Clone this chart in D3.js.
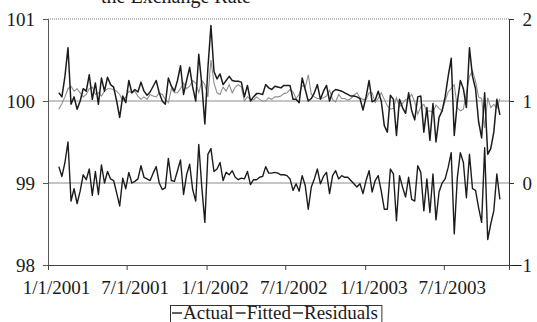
<!DOCTYPE html>
<html>
<head>
<meta charset="utf-8">
<script src="https://cdn.jsdelivr.net/npm/d3@7/dist/d3.min.js"></script>
<style>
  html, body { margin: 0; padding: 0; background: #fff; }
  svg text { font-family: "Liberation Serif", "DejaVu Serif", serif; fill: #1a1a1a; }
</style>
</head>
<body>
<div id="chart"></div>
<script>
// weekly observations, first one on 26 Jan 2001
const firstWeek = new Date(2001, 0, 26);

const actual = [
  100.10, 100.05, 100.30, 100.65, 99.96, 100.05, 99.90, 100.00, 100.15, 100.12,
  100.32, 100.02, 100.22, 99.96, 100.28, 100.12, 100.29, 100.20, 100.17, 100.00,
  99.80, 100.06, 99.98, 100.25, 100.10, 100.14, 100.11, 100.23, 100.12, 100.07,
  100.11, 100.18, 100.25, 100.10, 100.00, 99.96, 100.28, 100.18, 100.12, 100.25,
  100.43, 100.08, 100.25, 100.41, 100.17, 100.00, 100.57, 100.20, 99.72, 100.40,
  100.92, 100.36, 100.27, 100.33, 100.20, 100.25, 100.30, 100.25, 100.24, 100.24,
  100.23, 100.05, 100.19, 100.00, 100.05, 100.09, 100.09, 100.08, 100.20, 100.16,
  100.14, 100.18, 100.17, 100.16, 100.19, 100.19, 100.19, 100.02, 100.02, 99.98,
  100.28, 100.14, 100.00, 100.03, 100.10, 100.20, 100.02, 100.12, 100.19, 100.00,
  100.11, 100.14, 100.13, 100.12, 100.10, 100.08, 100.06, 100.06, 100.05, 100.03,
  99.89, 100.05, 100.25, 99.99, 100.01, 100.12, 100.00, 99.70, 99.62, 100.07,
  100.02, 99.58, 100.02, 99.92, 99.85, 100.10, 99.88, 99.77, 100.05, 100.06,
  99.62, 99.92, 99.52, 99.97, 99.50, 99.80, 99.88, 100.05, 100.30, 100.52,
  99.58, 99.98, 100.25, 100.15, 99.92, 100.65, 100.30, 100.15, 99.75, 99.55,
  100.10, 99.35, 99.42, 99.62, 100.02, 99.83
];

const fitted = [
  99.90, 99.97, 100.05, 100.15, 100.18, 100.12, 100.15, 100.10, 100.05, 100.08,
  100.15, 100.17, 100.08, 100.10, 100.06, 100.12, 100.15, 100.15, 100.14, 100.12,
  100.08, 100.00, 100.05, 100.12, 100.10, 100.12, 100.06, 100.02, 100.05, 100.02,
  100.08, 100.06, 100.05, 100.10, 100.08, 100.02, 99.98, 100.15, 100.10, 100.10,
  100.15, 100.22, 100.15, 100.18, 100.25, 100.22, 100.10, 100.25, 100.20, 100.05,
  100.50, 100.22, 100.10, 100.08, 100.17, 100.12, 100.20, 100.10, 100.17, 100.20,
  100.17, 100.00, 100.05, 100.02, 100.01, 100.05, 100.02, 100.00, 100.00, 100.04,
  100.02, 100.05, 100.05, 100.06, 100.09, 100.10, 100.14, 100.11, 100.03, 100.08,
  100.19, 100.17, 100.32, 100.08, 100.05, 100.03, 100.03, 100.04, 100.06, 100.13,
  100.02, 99.99, 100.08, 100.03, 100.03, 100.01, 100.03, 100.07, 100.10, 100.04,
  100.02, 100.02, 100.10, 100.10, 99.98, 100.03, 100.10, 100.02, 99.94, 99.90,
  99.91, 100.04, 99.93, 99.97, 100.02, 100.03, 100.08, 99.99, 99.84, 99.93,
  99.96, 99.87, 99.88, 99.86, 99.95, 99.91, 99.88, 100.00, 100.11, 100.15,
  100.20, 99.92, 99.88, 99.90, 100.10, 100.30, 100.37, 100.24, 100.05, 100.03,
  99.67, 100.04, 99.92, 99.96, 99.91, 100.03
];

const residuals = [
  0.20, 0.08, 0.25, 0.50, -0.22, -0.07, -0.25, -0.10, 0.10, 0.04,
  0.17, -0.15, 0.14, -0.14, 0.22, 0.00, 0.14, 0.05, 0.03, -0.12,
  -0.28, 0.06, -0.07, 0.13, 0.00, 0.02, 0.05, 0.21, 0.07, 0.05,
  0.03, 0.12, 0.20, 0.00, -0.08, -0.06, 0.30, 0.03, 0.02, 0.15,
  0.28, -0.14, 0.10, 0.23, -0.08, -0.22, 0.47, -0.05, -0.48, 0.35,
  0.42, 0.14, 0.17, 0.25, 0.03, 0.13, 0.10, 0.15, 0.07, 0.04,
  0.06, 0.05, 0.14, -0.02, 0.04, 0.04, 0.07, 0.08, 0.20, 0.12,
  0.12, 0.13, 0.12, 0.10, 0.10, 0.09, 0.05, -0.09, -0.01, -0.10,
  0.09, -0.03, -0.32, -0.05, 0.05, 0.17, -0.01, 0.08, 0.13, -0.13,
  0.09, 0.15, 0.05, 0.09, 0.07, 0.07, 0.03, -0.01, -0.05, -0.01,
  -0.13, 0.03, 0.15, -0.11, 0.03, 0.09, -0.10, -0.32, -0.32, 0.17,
  0.11, -0.46, 0.09, -0.05, -0.17, 0.07, -0.20, -0.22, 0.21, 0.13,
  -0.34, 0.05, -0.36, 0.11, -0.45, -0.11, 0.00, 0.05, 0.19, 0.37,
  -0.62, 0.06, 0.37, 0.25, -0.18, 0.35, -0.07, -0.09, -0.30, -0.48,
  0.43, -0.69, -0.50, -0.34, 0.11, -0.20
];

const leftTicks = [98, 99, 100, 101];
const rightTicks = [-1, 0, 1, 2];
const xTickLabels = ['1/1/2001', '7/1/2001', '1/1/2002', '7/1/2002', '1/1/2003', '7/1/2003'];
const seriesNames = ['Actual', 'Fitted', 'Residuals'];

const width = 537, height = 322;
const plotLeft = 48, plotRight = 509, plotTop = 19, plotBottom = 265;

const parseDate = d3.timeParse('%m/%d/%Y');
const weeks = actual.map((_, i) => d3.timeWeek.offset(firstWeek, i));

const x = d3.scaleTime()
  .domain([new Date(2001, 0, 1), new Date(2003, 10, 28)])
  .range([plotLeft, plotRight]);
const y = d3.scaleLinear().domain([98, 101]).range([plotBottom, plotTop]);
const yRes = d3.scaleLinear().domain([-1, 2]).range([plotBottom, plotTop]);

const svg = d3.select('#chart').append('svg')
  .attr('width', width)
  .attr('height', height);

// title, only its lower edge is inside the picture
svg.append('text')
  .attr('x', 176).attr('y', 3)
  .attr('text-anchor', 'middle')
  .style('font-size', '20px')
  .text('the Exchange Rate');

// grid lines at 100 and 99, dotted top border at 101
svg.selectAll('line.grid')
  .data([99, 100])
  .enter().append('line')
  .attr('class', 'grid')
  .attr('x1', plotLeft).attr('x2', plotRight)
  .attr('y1', d => y(d)).attr('y2', d => y(d))
  .attr('stroke', '#8c8c8c').attr('stroke-width', 1);

svg.append('line')
  .attr('x1', plotLeft).attr('x2', plotRight)
  .attr('y1', y(101)).attr('y2', y(101))
  .attr('stroke', '#777').attr('stroke-dasharray', '1,1');

// left axis
const yAxis = svg.append('g')
  .attr('transform', `translate(${plotLeft},0)`)
  .call(d3.axisLeft(y).tickValues(leftTicks).tickSize(5).tickPadding(8).tickFormat(d3.format('d')));
yAxis.select('.domain').attr('stroke', '#555');
yAxis.selectAll('.tick line').attr('stroke', '#555');
yAxis.selectAll('text').style('font-size', '19px').attr('fill', '#1a1a1a')
  .attr('font-family', null);

// right axis
const rAxis = svg.append('g')
  .attr('transform', `translate(${plotRight},0)`)
  .call(d3.axisRight(yRes).tickValues(rightTicks).tickSize(5).tickPadding(8).tickFormat(d3.format('d')));
rAxis.select('.domain').attr('stroke', '#333');
rAxis.selectAll('.tick line').attr('stroke', '#333');
rAxis.selectAll('text').style('font-size', '19px').attr('fill', '#1a1a1a')
  .attr('text-anchor', 'end').attr('x', 23)
  .attr('font-family', null);

// bottom axis
const xAxis = svg.append('g')
  .attr('transform', `translate(0,${plotBottom})`)
  .call(d3.axisBottom(x)
    .tickValues(xTickLabels.map(parseDate))
    .tickSize(5).tickPadding(11)
    .tickFormat((d, i) => xTickLabels[i]));
xAxis.select('.domain').attr('stroke', '#444');
xAxis.selectAll('.tick line').attr('stroke', '#444');
xAxis.selectAll('text').style('font-size', '19px').attr('fill', '#1a1a1a')
  .attr('dx', 8).attr('font-family', null);

// series
const lineLeft = vals => d3.line().x((d, i) => x(weeks[i])).y(d => y(d))(vals);
const lineRight = vals => d3.line().x((d, i) => x(weeks[i])).y(d => yRes(d))(vals);

const colors = { Actual: '#1c1c1c', Fitted: '#8e8e8e', Residuals: '#1c1c1c' };

svg.append('path').attr('d', lineLeft(fitted))
  .attr('fill', 'none').attr('stroke', colors.Fitted).attr('stroke-width', 1.1);
svg.append('path').attr('d', lineLeft(actual))
  .attr('fill', 'none').attr('stroke', colors.Actual).attr('stroke-width', 1.5)
  .attr('stroke-linejoin', 'round');
svg.append('path').attr('d', lineRight(residuals))
  .attr('fill', 'none').attr('stroke', colors.Residuals).attr('stroke-width', 1.4)
  .attr('stroke-linejoin', 'round');

// legend, entries packed one after another; bottom edge runs off the picture
const legend = svg.append('g');
const legendBox = legend.append('rect')
  .attr('x', 170.5).attr('y', 305.5)
  .attr('height', 24)
  .attr('fill', '#fff').attr('stroke', '#333');

let cursor = 172;
seriesNames.forEach(name => {
  legend.append('line')
    .attr('x1', cursor).attr('x2', cursor + 10)
    .attr('y1', 313).attr('y2', 313)
    .attr('stroke', '#1c1c1c').attr('stroke-width', 1.4);
  const t = legend.append('text')
    .attr('x', cursor + 11).attr('y', 318.5)
    .style('font-size', '19px')
    .text(name);
  cursor += 11 + t.node().getComputedTextLength() + 2;
});
legendBox.attr('width', cursor + 2 - 170.5);
</script>
</body>
</html>
